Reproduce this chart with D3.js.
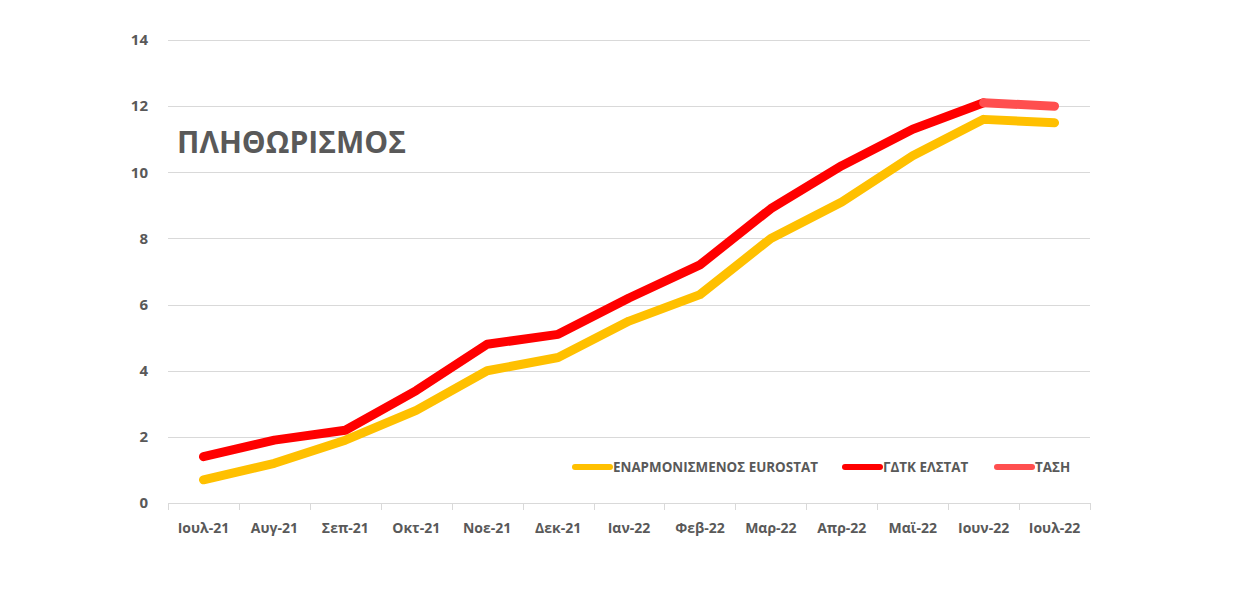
<!DOCTYPE html>
<html>
<head>
<meta charset="utf-8">
<script src="https://cdn.jsdelivr.net/npm/d3@7"></script>
<style>
  body { margin: 0; background: #fff; }
  svg text { font-family: "Open Sans", "DejaVu Sans", sans-serif; font-weight: bold; fill: #595959; }
</style>
</head>
<body>
<svg id="chart" width="1240" height="600"></svg>
<script>
// data
var months = ["Ιουλ-21", "Αυγ-21", "Σεπ-21", "Οκτ-21", "Νοε-21", "Δεκ-21", "Ιαν-22",
              "Φεβ-22", "Μαρ-22", "Απρ-22", "Μαϊ-22", "Ιουν-22", "Ιουλ-22"];
var eurostat = [0.7, 1.2, 1.9, 2.8, 4.0, 4.4, 5.5, 6.3, 8.0, 9.1, 10.5, 11.6, 11.5];
var elstat = [1.4, 1.9, 2.2, 3.4, 4.8, 5.1, 6.2, 7.2, 8.9, 10.2, 11.3, 12.1];
var trend = [{m: "Ιουν-22", v: 12.1}, {m: "Ιουλ-22", v: 12.0}];
var yTicks = [0, 2, 4, 6, 8, 10, 12, 14];

var series = [
  {name: "ΕΝΑΡΜΟΝΙΣΜΕΝΟΣ EUROSTAT", color: "#ffc000"},
  {name: "ΓΔΤΚ ΕΛΣΤΑΤ", color: "#ff0000"},
  {name: "ΤΑΣΗ", color: "#ff4f4f"}
];

var svg = d3.select("#chart");
var plotLeft = 168, plotRight = 1090, plotTop = 40, plotBottom = 503;

var x = d3.scaleBand().domain(months).range([plotLeft, plotRight]);
var y = d3.scaleLinear().domain([0, 14]).range([plotBottom, plotTop]);

// gridlines
svg.append("g")
  .selectAll("line")
  .data(yTicks)
  .enter().append("line")
  .attr("x1", plotLeft).attr("x2", plotRight)
  .attr("y1", function(d) { return Math.round(y(d)) + 0.5; })
  .attr("y2", function(d) { return Math.round(y(d)) + 0.5; })
  .attr("stroke", "#d9d9d9")
  .attr("stroke-width", 1);

// y labels
svg.append("g")
  .selectAll("text")
  .data(yTicks)
  .enter().append("text")
  .attr("x", 148)
  .attr("y", function(d) { return y(d); })
  .attr("dy", "0.35em")
  .attr("text-anchor", "end")
  .style("font-size", "15px")
  .text(function(d) { return d; });

// x axis ticks (between categories)
var tickPos = months.map(function(m) { return x(m); }).concat([plotRight]);
svg.append("g")
  .selectAll("line")
  .data(tickPos)
  .enter().append("line")
  .attr("x1", function(d) { return Math.round(d) + 0.5; })
  .attr("x2", function(d) { return Math.round(d) + 0.5; })
  .attr("y1", plotBottom).attr("y2", plotBottom + 7)
  .attr("stroke", "#d9d9d9");

svg.append("g")
  .selectAll("text")
  .data(months)
  .enter().append("text")
  .attr("x", function(d) { return x(d) + x.bandwidth() / 2; })
  .attr("y", 533)
  .attr("text-anchor", "middle")
  .style("font-size", "14px")
  .text(function(d) { return d; });

// lines
var line = d3.line()
  .x(function(d) { return x(d.m) + x.bandwidth() / 2; })
  .y(function(d) { return y(d.v); });

function toPts(vals) {
  return vals.map(function(v, i) { return {m: months[i], v: v}; });
}

var lineData = [
  {pts: toPts(eurostat), color: series[0].color},
  {pts: toPts(elstat), color: series[1].color},
  {pts: trend, color: series[2].color}
];

svg.append("g")
  .selectAll("path")
  .data(lineData)
  .enter().append("path")
  .attr("d", function(d) { return line(d.pts); })
  .attr("fill", "none")
  .attr("stroke", function(d) { return d.color; })
  .attr("stroke-width", 9)
  .attr("stroke-linecap", "round")
  .attr("stroke-linejoin", "round");

// title
svg.append("text")
  .attr("x", 177)
  .attr("y", 153)
  .style("font-size", "31px")
  .attr("textLength", 229)
  .attr("lengthAdjust", "spacingAndGlyphs")
  .text("ΠΛΗΘΩΡΙΣΜΟΣ");

// legend
var legendX = [575, 845, 997];
var legend = svg.append("g")
  .selectAll("g")
  .data(series)
  .enter().append("g")
  .attr("transform", function(d, i) { return "translate(" + legendX[i] + ",467)"; });

legend.append("line")
  .attr("x1", 0).attr("x2", 35)
  .attr("stroke", function(d) { return d.color; })
  .attr("stroke-width", 6)
  .attr("stroke-linecap", "round");

legend.append("text")
  .attr("x", 38)
  .attr("dy", "0.35em")
  .style("font-size", "13.4px")
  .text(function(d) { return d.name; });
</script>
</body>
</html>
